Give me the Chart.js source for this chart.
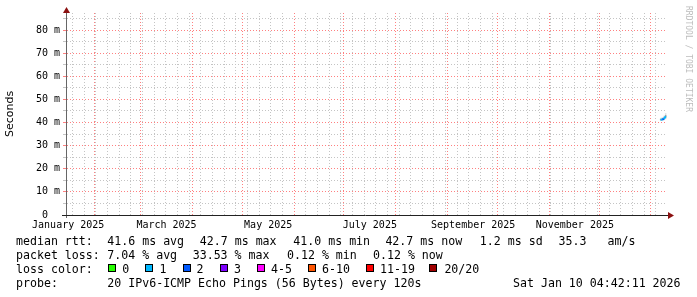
<!DOCTYPE html>
<html>
<head>
<meta charset="utf-8">
<script src="https://cdn.jsdelivr.net/npm/chart.js@4.4.1/dist/chart.umd.min.js"></script>
<style>
  body { margin: 0; background: #fff; }
  #wrap { position: relative; width: 697px; height: 297px; overflow: hidden; background: #fff;
          font-family: 'DejaVu Sans Mono', monospace; font-size: 11.6px; color: #000; }
  #chart { position: absolute; left: 0; top: 0; }
  .t { position: absolute; white-space: pre; line-height: 14px; height: 14px; }
  .box { position: absolute; width: 6px; height: 6px; border: 1px solid #000; }
  #mark { position: absolute; left: 683px; top: 6px; writing-mode: vertical-rl; font-size: 8px;
          line-height: 10px; color: #bdbdbd; white-space: pre; }
</style>
</head>
<body>
<div id="wrap">
  <canvas id="chart" width="697" height="297"></canvas>
  <div id="mark">RRDTOOL / TOBI OETIKER</div>
</div>
<script>
// time axis in days since 2025-01-01 00:00
const X_MIN = 14.8;
const X_MAX = 374.8;
const Y_MAX = 87.4; // ms

// data (last few daily samples, everything before is empty)
const days = [371, 372, 373, 374];
const medianMs = [41.2, 41.3, 41.6, 42.7];
const lossCount = [1, 1, 2, 1]; // lost pings out of 20
const smokeLow = [40.9, 41.0, 41.1, 41.6];
const smokeHigh = [41.9, 42.2, 42.8, 43.9];
const smokeInLow = [41.1, 41.2, 41.5, 42.3];
const smokeInHigh = [41.4, 41.6, 42.0, 43.1];

// axis ticks
const monthStartDays = [31, 59, 90, 120, 151, 181, 212, 243, 273, 304, 334, 365];
const xLabelDays = [15.5, 74.5, 135.5, 196.5, 258.5, 319.5];
const xLabels = ['January 2025', 'March 2025', 'May 2025', 'July 2025', 'September 2025', 'November 2025'];
const firstWeekDay = 18; // Sunday Jan 19
const yTickValues = [0, 5, 10, 15, 20, 25, 30, 35, 40, 45, 50, 55, 60, 65, 70, 75, 80, 85];

// legend
const lossLabels = ['0', '1', '2', '3', '4-5', '6-10', '11-19', '20/20'];
const lossColors = ['#26ff00', '#00b8ff', '#0059ff', '#7e00ff', '#ff00ff', '#ff5500', '#ff0000', '#a00000'];
const lossUpper = [0, 1, 2, 3, 5, 10, 19, 20];
const rttItems = ['median rtt:', '41.6 ms avg', '42.7 ms max', '41.0 ms min', '42.7 ms now', '1.2 ms sd', '35.3', 'am/s'];
const rttX = [16, 107.3, 199.8, 293.3, 385.4, 479.8, 558.5, 607.5];
const lossItems = ['packet loss:', '7.04 % avg', '33.53 % max', '0.12 % min', '0.12 % now'];
const lossX = [16, 107.3, 192.7, 287, 373];
const boxX = [108, 145, 182.5, 219.8, 256.8, 308, 365.8, 428.6];
const boxLabelX = [122.2, 159.6, 196.6, 234, 271, 322, 380, 444.4];
const probeText = '20 IPv6-ICMP Echo Pings (56 Bytes) every 120s';
const dateText = 'Sat Jan 10 04:42:11 2026';

const MONO = 'DejaVu Sans Mono';
const GRID = '#c4c4c4';
const MGRID = '#ff8080';

function lossColor(n) {
    for (let i = 0; i < lossUpper.length; i++) {
        if (n <= lossUpper[i]) return lossColors[i];
    }
    return lossColors[lossColors.length - 1];
}

// x ticks: weekly grid, monthly major grid, label positions
const xTicks = [];
for (let d = firstWeekDay; d <= X_MAX; d += 7) {
    if (!monthStartDays.includes(d)) xTicks.push({ value: d, kind: 'week', label: '' });
}
monthStartDays.forEach(d => xTicks.push({ value: d, kind: 'month', label: '' }));
xLabelDays.forEach((d, i) => xTicks.push({ value: d, kind: 'label', label: xLabels[i] }));
xTicks.sort((a, b) => a.value - b.value);

function xGridColor(c) {
    const t = xTicks[c.index];
    if (!t || t.kind === 'label') return 'rgba(0,0,0,0)';
    return t.kind === 'month' ? MGRID : GRID;
}
function yGridColor(c) {
    const v = yTickValues[c.index];
    return v % 10 === 0 ? MGRID : GRID;
}

const axisArrows = {
    id: 'axisArrows',
    afterDraw(chart) {
        const { ctx, chartArea: a } = chart;
        const yx = a.left - 0.5;
        const xy = a.bottom + 0.5;
        ctx.save();
        ctx.lineWidth = 1;
        ctx.strokeStyle = '#666';
        ctx.beginPath();
        ctx.moveTo(yx, a.bottom + 3);
        ctx.lineTo(yx, a.top - 2);
        ctx.stroke();
        ctx.strokeStyle = '#222';
        ctx.beginPath();
        ctx.moveTo(a.left - 5, xy);
        ctx.lineTo(a.right + 2, xy);
        ctx.stroke();
        ctx.fillStyle = '#8b1010';
        ctx.beginPath();
        ctx.moveTo(yx, a.top - 6);
        ctx.lineTo(yx - 3.5, a.top);
        ctx.lineTo(yx + 3.5, a.top);
        ctx.closePath();
        ctx.fill();
        ctx.beginPath();
        ctx.moveTo(a.right + 7, xy);
        ctx.lineTo(a.right + 1, xy - 3.5);
        ctx.lineTo(a.right + 1, xy + 3.5);
        ctx.closePath();
        ctx.fill();
        ctx.restore();
    }
};

new Chart(document.getElementById('chart').getContext('2d'), {
    type: 'bar',
    data: {
        datasets: [
            {
                type: 'line',
                data: days.map((d, i) => ({ x: d, y: medianMs[i] })),
                borderWidth: 2,
                pointRadius: 0,
                borderColor: lossColor(lossCount[0]),
                segment: { borderColor: c => lossColor(lossCount[c.p1DataIndex]) },
                order: 0
            },
            {
                data: days.map((d, i) => ({ x: d, y: [smokeInLow[i], smokeInHigh[i]] })),
                backgroundColor: '#a0a0a0',
                borderWidth: 0,
                barPercentage: 1,
                categoryPercentage: 1,
                grouped: false,
                order: 1
            },
            {
                data: days.map((d, i) => ({ x: d, y: [smokeLow[i], smokeHigh[i]] })),
                backgroundColor: '#dedede',
                borderWidth: 0,
                barPercentage: 1,
                categoryPercentage: 1,
                grouped: false,
                order: 2
            }
        ]
    },
    options: {
        responsive: false,
        animation: false,
        events: [],
        layout: { padding: { left: 0, top: 13, right: 30, bottom: 62 } },
        plugins: { legend: { display: false }, tooltip: { enabled: false }, title: { display: false } },
        scales: {
            x: {
                type: 'linear',
                min: X_MIN,
                max: X_MAX,
                offset: false,
                afterBuildTicks: s => { s.ticks = xTicks.map(t => ({ value: t.value })); },
                afterFit: s => { s.height = 20; },
                ticks: {
                    autoSkip: false,
                    maxRotation: 0,
                    padding: 4,
                    color: '#000',
                    font: { family: MONO, size: 10 },
                    callback: (v, i) => xTicks[i] ? xTicks[i].label : ''
                },
                grid: {
                    offset: false,
                    drawTicks: false,
                    lineWidth: 1,
                    color: xGridColor
                },
                border: { display: false, dash: [1, 2] }
            },
            y: {
                type: 'linear',
                min: 0,
                max: Y_MAX,
                afterBuildTicks: s => { s.ticks = yTickValues.map(v => ({ value: v })); },
                afterFit: s => { s.width = 67; },
                ticks: {
                    autoSkip: false,
                    padding: 3,
                    color: '#000',
                    font: { family: MONO, size: 10 },
                    callback: v => v % 10 !== 0 ? '' : (v === 0 ? '0  ' : v + ' m')
                },
                grid: {
                    tickLength: 4,
                    lineWidth: 1,
                    color: yGridColor,
                    tickColor: yGridColor
                },
                border: { display: false, dash: [1, 2] },
                title: {
                    display: true,
                    text: 'Seconds',
                    color: '#000',
                    font: { family: 'DejaVu Sans', size: 11 },
                    padding: { top: 4, bottom: 0 }
                }
            }
        }
    },
    plugins: [axisArrows]
});

// legend below the graph
const wrap = document.getElementById('wrap');
function addText(x, y, text) {
    const el = document.createElement('div');
    el.className = 't';
    el.style.left = x + 'px';
    el.style.top = y + 'px';
    el.textContent = text;
    wrap.appendChild(el);
    return el;
}
rttItems.forEach((s, i) => addText(rttX[i], 234, s));
lossItems.forEach((s, i) => addText(lossX[i], 248, s));
addText(16, 262, 'loss color:');
lossLabels.forEach((s, i) => {
    const b = document.createElement('div');
    b.className = 'box';
    b.style.left = boxX[i] + 'px';
    b.style.top = '264px';
    b.style.background = lossColors[i];
    wrap.appendChild(b);
    addText(boxLabelX[i], 262, s);
});
addText(16, 276, 'probe:');
addText(107.3, 276, probeText);
const dt = addText(0, 276, dateText);
dt.style.left = (681 - dt.offsetWidth) + 'px';
</script>
</body>
</html>
